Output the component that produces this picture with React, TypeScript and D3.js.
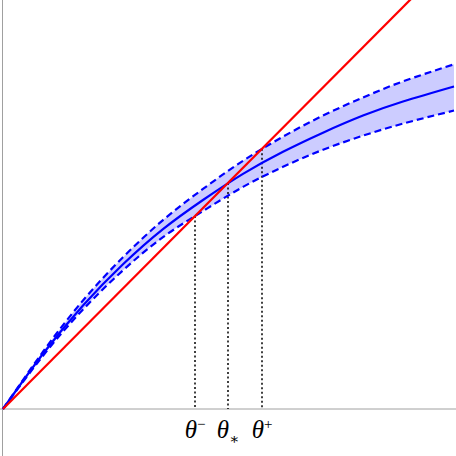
import React, { useEffect, useRef } from 'react';
import * as d3 from 'd3';

// sample points (x, in units of 100px)
const xs = [0, 0.4, 0.8, 1.2, 1.6, 2.0, 2.4, 2.8, 3.2, 3.6, 4.0, 4.51];
const meanCurve = [0, 0.55, 1.03, 1.44, 1.79, 2.08, 2.34, 2.56, 2.75, 2.92, 3.06, 3.21];
const upperCurve = [0, 0.57, 1.08, 1.51, 1.88, 2.19, 2.47, 2.71, 2.92, 3.1, 3.26, 3.43];
const lowerCurve = [0, 0.53, 0.99, 1.38, 1.71, 1.97, 2.21, 2.41, 2.58, 2.72, 2.84, 2.97];
const diagonal = [0, 4.2];

const thetas = [1.92, 2.25, 2.59];
const thetaLabels = [
  { base: 'θ', mark: '−', kind: 'sup' },
  { base: 'θ', mark: '∗', kind: 'sub' },
  { base: 'θ', mark: '+', kind: 'sup' }
];

const App = () => {
  const ref = useRef<SVGSVGElement>(null);

  useEffect(() => {
    const svg = d3.select(ref.current);
    svg.selectAll('*').remove();

    const x = d3.scaleLinear().domain([0, 4.51]).range([3, 454]);
    const y = d3.scaleLinear().domain([0, 4.07]).range([409, 0]);

    const pts = (vals: number[]) => xs.map((d, i) => [d, vals[i]] as [number, number]);

    const line = d3
      .line<[number, number]>()
      .x((d) => x(d[0]))
      .y((d) => y(d[1]))
      .curve(d3.curveNatural);

    const band = d3
      .area<number>()
      .x((d) => x(d))
      .y0((_, i) => y(lowerCurve[i]))
      .y1((_, i) => y(upperCurve[i]))
      .curve(d3.curveNatural);

    // axes
    svg
      .append('line')
      .attr('x1', 0)
      .attr('x2', 456)
      .attr('y1', y(0))
      .attr('y2', y(0))
      .attr('stroke', '#a0a0a0')
      .attr('stroke-width', 1);
    svg
      .append('line')
      .attr('x1', 2.5)
      .attr('x2', 2.5)
      .attr('y1', 0)
      .attr('y2', 456)
      .attr('stroke', '#a0a0a0')
      .attr('stroke-width', 1);

    svg.append('path').attr('d', band(xs)).attr('fill', '#ccccff').attr('stroke', 'none');

    // dotted drop lines
    svg
      .selectAll('line.drop')
      .data(thetas)
      .enter()
      .append('line')
      .attr('class', 'drop')
      .attr('x1', (d) => x(d))
      .attr('x2', (d) => x(d))
      .attr('y1', (d) => y(d))
      .attr('y2', y(0))
      .attr('stroke', '#000')
      .attr('stroke-width', 1.5)
      .attr('stroke-dasharray', '2,2.5');

    [upperCurve, lowerCurve].forEach((c) => {
      svg
        .append('path')
        .attr('d', line(pts(c)))
        .attr('fill', 'none')
        .attr('stroke', '#0000ff')
        .attr('stroke-width', 2.2)
        .attr('stroke-dasharray', '7,4');
    });

    svg
      .append('path')
      .attr('d', line(pts(meanCurve)))
      .attr('fill', 'none')
      .attr('stroke', '#0000ff')
      .attr('stroke-width', 2.2);

    svg
      .append('path')
      .attr('d', line(diagonal.map((d) => [d, d] as [number, number])))
      .attr('fill', 'none')
      .attr('stroke', '#ff0000')
      .attr('stroke-width', 2.2);

    // theta labels
    const labels = svg
      .selectAll('text.theta')
      .data(thetas)
      .enter()
      .append('text')
      .attr('class', 'theta')
      .attr('x', (d) => x(d))
      .attr('y', 438)
      .attr('text-anchor', 'middle')
      .style('font-family', '"Liberation Serif", "DejaVu Serif", serif')
      .style('font-size', '25px')
      .style('fill', '#000');

    labels
      .append('tspan')
      .style('font-style', 'italic')
      .text((_, i) => thetaLabels[i].base);
    labels
      .append('tspan')
      .style('font-size', '15px')
      .attr('dy', (_, i) => (thetaLabels[i].kind === 'sup' ? -9 : 6))
      .text((_, i) => thetaLabels[i].mark);
  }, []);

  return (
    <svg
      ref={ref}
      width={456}
      height={456}
      style={{ position: 'absolute', left: 0, top: 0, background: '#fff' }}
    />
  );
};

export default App;
